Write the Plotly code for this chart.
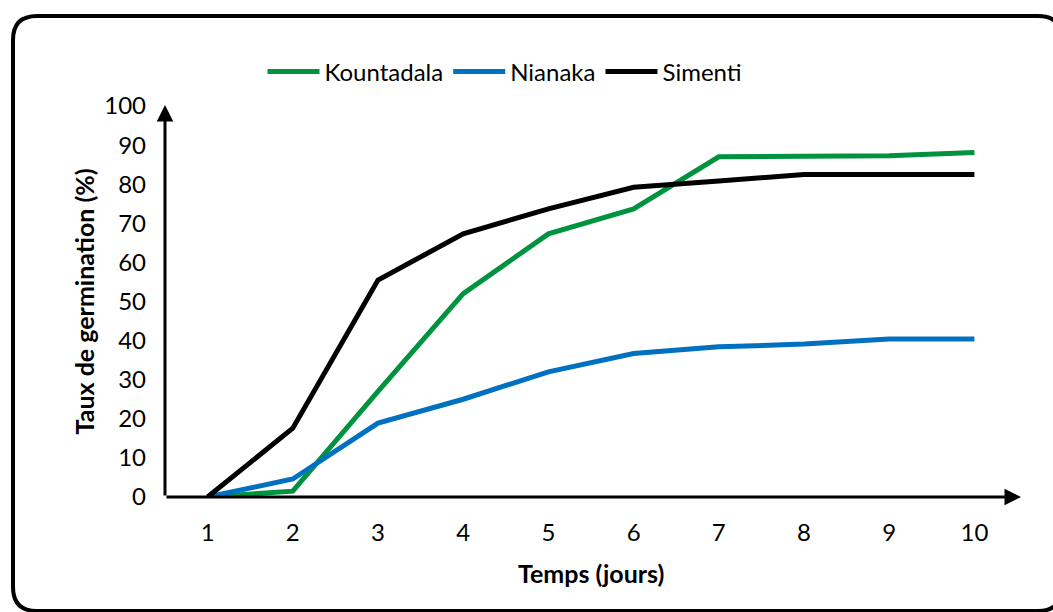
import plotly.graph_objects as go

days = [1, 2, 3, 4, 5, 6, 7, 8, 9, 10]
kountadala = [0, 1.5, 27, 52, 67.3, 73.7, 87, 87.2, 87.3, 88.1]
nianaka = [0, 4.6, 18.9, 25, 32, 36.7, 38.4, 39.1, 40.4, 40.4]
simenti = [0, 17.6, 55.5, 67.3, 73.7, 79.2, 80.8, 82.5, 82.5, 82.5]
series_names = ["Kountadala", "Nianaka", "Simenti"]
colors = ["#00933F", "#0070C0", "#000000"]
y_ticks = [0, 10, 20, 30, 40, 50, 60, 70, 80, 90, 100]

W, H = 1053, 612
L, R, T, B = 165, 36, 106, 115
PW, PH = W - L - R, H - T - B

def px(xp):
    return (xp - L) / PW

def py(yp):
    return (H - B - yp) / PH

FONT = "Lato"

fig = go.Figure()
for name, vals, c in zip(series_names, [kountadala, nianaka, simenti], colors):
    fig.add_trace(go.Scatter(x=days, y=vals, name=name, mode="lines",
                             line=dict(color=c, width=5)))

# rounded frame
l, t, r, b, rad = 13, 16, 1062, 611, 24
path = (f"M {px(l+rad)},{py(t)} L {px(r-rad)},{py(t)} Q {px(r)},{py(t)} {px(r)},{py(t+rad)} "
        f"L {px(r)},{py(b-rad)} Q {px(r)},{py(b)} {px(r-rad)},{py(b)} "
        f"L {px(l+rad)},{py(b)} Q {px(l)},{py(b)} {px(l)},{py(b-rad)} "
        f"L {px(l)},{py(t+rad)} Q {px(l)},{py(t)} {px(l+rad)},{py(t)} Z")
fig.add_shape(type="path", path=path, xref="paper", yref="paper",
              line=dict(color="black", width=4), layer="below")

# axis arrows
fig.add_annotation(x=px(1021), y=0, xref="paper", yref="paper", ax=-(1021 - L), ay=0,
                   showarrow=True, arrowhead=2, arrowsize=1.1, arrowwidth=3, arrowcolor="black", text="")
fig.add_annotation(x=0, y=py(105), xref="paper", yref="paper", ax=0, ay=(H - B - 105),
                   showarrow=True, arrowhead=2, arrowsize=1.1, arrowwidth=3, arrowcolor="black", text="")

# axis titles
fig.add_annotation(x=px(83), y=0.5, xref="paper", yref="paper", xanchor="center", yanchor="middle",
                   text="<b>Taux de germination (%)</b>",
                   textangle=-90, showarrow=False, font=dict(family=FONT, size=25, color="black"))
fig.add_annotation(x=0.5, y=py(573), xref="paper", yref="paper", xanchor="center", yanchor="middle",
                   text="<b>Temps (jours)</b>",
                   showarrow=False, font=dict(family=FONT, size=25, color="black"))

fig.update_layout(
    width=W, height=H,
    margin=dict(l=L, r=R, t=T, b=B),
    paper_bgcolor="white", plot_bgcolor="white",
    font=dict(family=FONT, size=24, color="black"),
    showlegend=True,
    legend=dict(orientation="h", x=px(505), xanchor="center", y=py(72), yanchor="middle",
                font=dict(family=FONT, size=24), itemwidth=52, tracegroupgap=0),
    xaxis=dict(range=[0.5, 10.5], tickmode="array", tickvals=days, ticktext=[str(d) for d in days],
               showgrid=False, zeroline=False, showline=False, ticks="", ticklabelstandoff=19,
               tickfont=dict(family=FONT, size=24)),
    yaxis=dict(range=[0, 100], tickmode="array", tickvals=y_ticks, showgrid=False, zeroline=False,
               showline=False, ticks="", ticklabelstandoff=18, tickfont=dict(family=FONT, size=24)),
)

fig.write_html("out.html")
